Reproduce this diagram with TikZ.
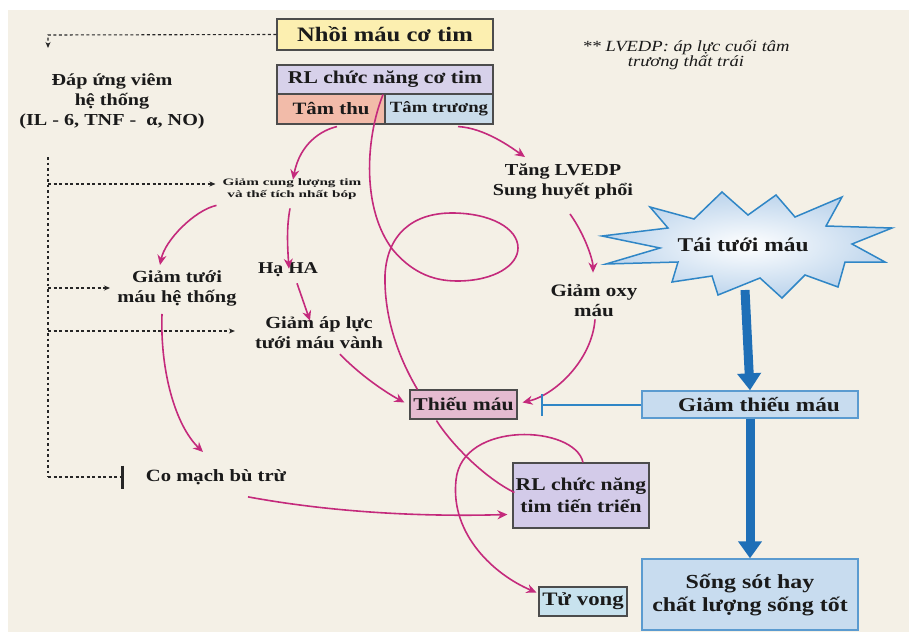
\documentclass[tikz,border=0pt]{standalone}
\usepackage{fontspec}
\newfontfamily\sq[FakeStretch=1.2]{Liberation Serif}
\newfontfamily\sqs[FakeStretch=1.55]{Liberation Serif}
\usetikzlibrary{arrows.meta,calc}
\definecolor{bg}{HTML}{F4F0E6}
\definecolor{magc}{HTML}{C42A7C}
\definecolor{bluethick}{HTML}{1E6FB7}
\definecolor{blueline}{HTML}{2F86C6}
\definecolor{blueborder}{HTML}{5B9BD0}
\definecolor{cyel}{HTML}{FCEFB0}
\definecolor{clav}{HTML}{D7D1EA}
\definecolor{csal}{HTML}{F2BBA9}
\definecolor{cltb}{HTML}{CADCEA}
\definecolor{cpink}{HTML}{E4BBD0}
\definecolor{clavb}{HTML}{D3CBE9}
\definecolor{ctu}{HTML}{C8E2EE}
\definecolor{cgt}{HTML}{C8DCEF}
\definecolor{starfill}{HTML}{BCD4EC}
\definecolor{ink}{HTML}{1A1A1A}
\newcommand{\fsz}[2]{\fontsize{#1}{#2}\selectfont}
\tikzset{
  box/.style={draw=black!70, line width=1.1pt, inner sep=0pt, align=center, text=ink},
  bluebox/.style={draw=blueborder, line width=1.4pt, inner sep=0pt, align=center, text=ink},
  txt/.style={inner sep=0pt, align=center, text=ink},
  mag/.style={draw=magc, line width=1.6pt},
  magar/.style={mag, -{Stealth[length=10pt,width=9pt]}},
  dsh/.style={draw=black!85, line width=1.1pt, dash pattern=on 3pt off 2.5pt},
  dshar/.style={dsh, -{Stealth[length=6pt,width=5pt]}},
  bigar/.style={draw=bluethick, line width=9pt, -{Triangle[length=17pt,width=23pt]}},
}
\begin{document}
\begin{tikzpicture}[x=1pt,y=1pt]
\useasboundingbox (0,0) rectangle (909,-632);
\fill[white] (0,0) rectangle (909,-632);
\fill[bg] (8,-10) rectangle (909,-632);

% top boxes
\node[box, fill=cyel, minimum width=216pt, minimum height=31pt, font={\sq\bfseries\fsz{20.5}{24}}] (nhoi) at (385,-34.5) {Nhồi máu cơ tim};
\node[box, fill=clav, minimum width=216pt, minimum height=29pt, font={\sq\bfseries\fsz{18}{22}}] (rlct) at (385,-79.5) {RL chức năng cơ tim};
\node[box, fill=csal, minimum width=108pt, minimum height=30pt, font={\sq\bfseries\fsz{17.3}{21}}] (tamthu) at (331,-109) {Tâm thu};
\node[box, fill=cltb, minimum width=108pt, minimum height=30pt, font={\sq\bfseries\fsz{15.6}{19}}] (tamtr) at (439,-109) {Tâm trương};

% texts
\node[txt, font={\sq\bfseries\fsz{16.8}{20}}] (dap) at (112,-101) {Đáp ứng viêm\\hệ thống\\(IL - 6, TNF -\ \ α, NO)};
\node[txt, font={\sq\itshape\fsz{15.5}{15}}] (note) at (686,-55) {** LVEDP: áp lực cuối tâm\\trương thất trái};
\node[txt, font={\sqs\bfseries\fsz{9.8}{11.5}}] (giamcung) at (292,-189) {Giảm cung lượng tim\\và thế tích nhất bóp};
\node[txt, font={\sq\bfseries\fsz{17}{20}}] (giamtuoi) at (177,-288) {Giảm tưới\\máu hệ thống};
\node[txt, font={\sq\bfseries\fsz{16.5}{20}}] (haha) at (288,-270) {Hạ HA};
\node[txt, font={\sq\bfseries\fsz{17}{20}}] (giamap) at (319,-333) {Giảm áp lực\\tưới máu vành};
\node[txt, font={\sq\bfseries\fsz{16.8}{20}}] (tang) at (563,-181) {Tăng LVEDP\\Sung huyết phổi};
\node[txt, font={\sq\bfseries\fsz{17.5}{20}}] (giamoxy) at (594,-301) {Giảm oxy\\máu};
\node[txt, font={\sq\bfseries\fsz{17.2}{20}}] (comach) at (216,-477) {Co mạch bù trừ};

% star
\shade[inner color=white, outer color=starfill, draw=blueline, line width=1.5pt, line join=miter]
  (602,-236) -- (668,-228) -- (650,-207) -- (694,-219) -- (722,-192) -- (748,-215) --
  (776,-195) -- (795,-217) -- (842,-197) -- (826,-226) -- (892,-228) -- (852,-244) --
  (885,-262) -- (845,-262) -- (838,-287) -- (805,-275) -- (782,-298) -- (760,-278) --
  (718,-295) -- (712,-276) -- (672,-282) -- (678,-262) -- (606,-264) -- (660,-248) -- cycle;
\node[txt, font={\sq\bfseries\fsz{19.5}{22}}] (tai) at (743,-245) {Tái tưới máu};
\coordinate (starbot) at (745,-290);

% lower boxes
\node[box, fill=cpink, minimum width=107pt, minimum height=29pt, font={\sq\bfseries\fsz{18}{21}}] (thieu) at (463.5,-404.5) {Thiếu máu};
\node[bluebox, fill=cgt, minimum width=216pt, minimum height=27pt, font={\sq\bfseries\fsz{19.4}{22}}] (giamthieu) at (750,-404.5) {\hspace*{18pt}Giảm thiếu máu};
\node[bluebox, fill=cgt, minimum width=216pt, minimum height=71pt, font={\sq\bfseries\fsz{19.9}{23}}] (song) at (750,-594.5) {Sống sót hay\\chất lượng sống tốt};
\node[box, fill=clavb, minimum width=136pt, minimum height=65pt, font={\sq\bfseries\fsz{18}{22}}] (rltt) at (581,-495.5) {RL chức năng\\tim tiến triển};
\node[box, fill=ctu, minimum width=88pt, minimum height=29pt, font={\sq\bfseries\fsz{19}{22}}] (tuvong) at (583,-601.5) {Tử vong};

% dashed connectors
\coordinate (dtop) at (48,-35);
\coordinate (dtip) at (48,-48);
\draw[dshar] (nhoi.west) -- (dtop) -- (dtip);
\coordinate (vtop) at (48,-157);
\coordinate (vbot) at (48,-477);
\draw[dsh, dash pattern=on 2.5pt off 3pt] (vtop) -- (vbot);
\coordinate (v1) at (48,-184);
\coordinate (v2) at (48,-288);
\coordinate (v3) at (48,-331);
\draw[dshar] (v1) -- ([xshift=-7pt]giamcung.west |- v1);
\draw[dshar] (v2) -- (110,-288);
\draw[dshar] (v3) -- ([xshift=-20pt]giamap.west |- v3);
\draw[dsh, -{Bar[width=23pt,line width=2.6pt]}] (vbot) -- ([xshift=-22pt]comach.west |- vbot);

% magenta connectors
\draw[magar] ($(tamthu.south)+(6,-2)$) .. controls (322,-130) and (300,-143) .. ($(giamcung.north)+(1,-1)$);
\draw[magar] ($(tamtr.south)+(19,-2)$) .. controls (485,-128) and (512,-148) .. ($(tang.north)+(-38,6)$);
\draw[mag] ($(rlct.south)+(-2,0)$) .. controls (365,-140) and (362,-210) .. (393,-250)
   .. controls (410,-270) and (430,-281) .. (457,-281)
   .. controls (495,-281) and (518,-265) .. (518,-248)
   .. controls (518,-228) and (490,-213) .. (452,-213)
   .. controls (412,-213) and (387,-235) .. (385,-275)
   .. controls (384,-320) and (400,-360) .. ($(thieu.north west)+(8,0)$);
\draw[magar] ($(giamcung.south west)+(-6,-6)$) .. controls (195,-210) and (165,-240) .. (160,-265);
\draw[magar] ($(giamcung.south)+(-2,-9)$) .. controls (287,-225) and (287,-240) .. ($(haha.north)+(1,-6)$);
\draw[magar] ($(haha.south)+(9,-6)$) -- ($(giamap.north)+(-9,-4)$);
\draw[magar] ($(giamap.south)+(21,-5)$) .. controls (360,-375) and (385,-392) .. ($(thieu.west)+(-5,2)$);
\draw[magar] ($(tang.south)+(7,-15)$) .. controls (585,-235) and (593,-260) .. ($(giamoxy.north)+(-1,12)$);
\draw[magar] ($(giamoxy.south)+(1,-2)$) .. controls (592,-360) and (555,-395) .. ($(thieu.east)+(5,2)$);
\draw[magar] ($(giamtuoi.south)+(-15,-8)$) .. controls (160,-370) and (175,-425) .. (203,-452);
\draw[magar] ($(comach.south)+(32,-12)$) .. controls (330,-512) and (420,-517) .. ($(rltt.west)+(-5,-19)$);
\draw[mag] ($(thieu.south west)+(27,-1)$) .. controls (452,-445) and (485,-478) .. ($(rltt.west)+(2,3)$);
\draw[magar] ($(rltt.north)+(2,0)$) .. controls (575,-425) and (462,-420) .. (456,-480)
   .. controls (450,-535) and (495,-575) .. ($(tuvong.west)+(-2,9)$);

% blue connectors
\draw[bigar] (starbot) -- (giamthieu.north);
\draw[bigar] (giamthieu.south) -- (song.north);
\draw[draw=blueline, line width=2pt, -{Bar[width=22pt]}] (giamthieu.west) -- ([xshift=-100pt]giamthieu.west);
\end{tikzpicture}
\end{document}
